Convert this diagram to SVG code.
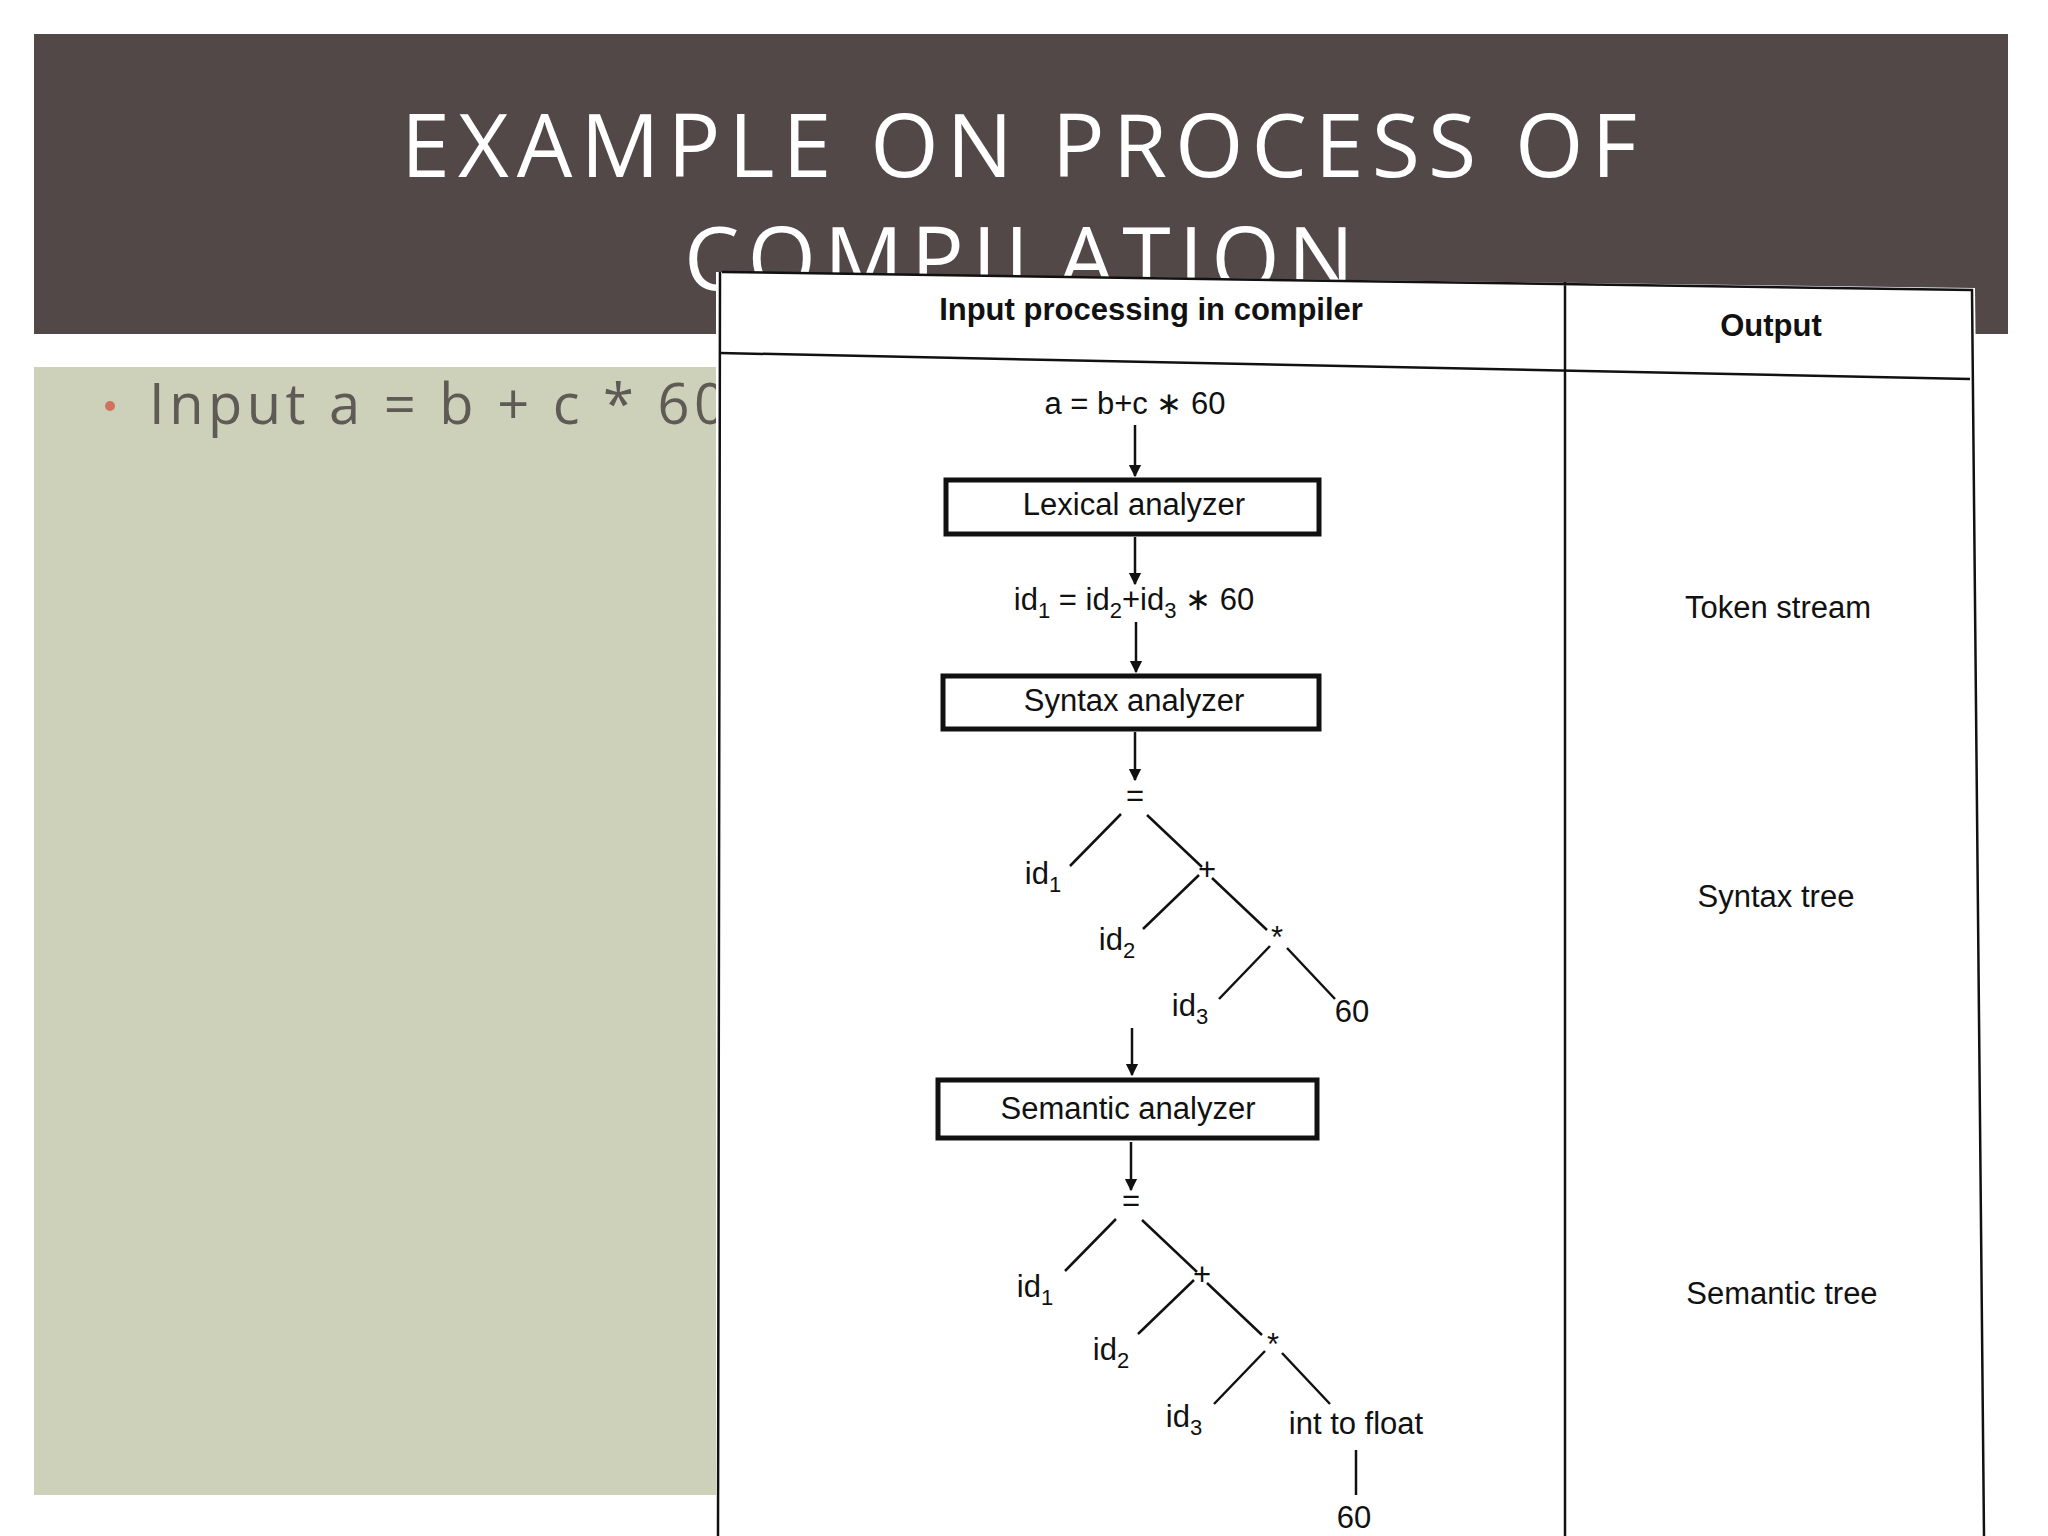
<svg xmlns="http://www.w3.org/2000/svg" width="2048" height="1536" viewBox="0 0 2048 1536">
<defs>
<marker id="ah" viewBox="0 0 10 10" refX="9" refY="5" markerWidth="5" markerHeight="6" orient="auto"><path d="M0,0 L10,5 L0,10 z" fill="#111"/></marker>
</defs>
<style>
.t{font-family:"Liberation Sans",Arial,sans-serif;font-size:31px;fill:#111;text-anchor:middle}
.b{font-weight:bold}
.ln{stroke:#111;stroke-width:2.5;fill:none}
.box{fill:#fff;stroke:#111;stroke-width:5}
.s{font-size:22px}
</style>
<rect width="2048" height="1536" fill="#fff"/>
<g id="header">
<rect x="34" y="34" width="1974" height="300" fill="#524848"/>
<text x="1023" y="177" font-family="Open Sans,sans-serif" font-size="88" fill="#fff" text-anchor="middle" letter-spacing="8">EXAMPLE ON PROCESS OF</text>
<text x="1023" y="290" font-family="Open Sans,sans-serif" font-size="88" fill="#fff" text-anchor="middle" letter-spacing="8">COMPILATION</text>
</g>
<g id="panel">
<rect x="34" y="367" width="682" height="1128" fill="#cdd1b9"/>
<circle cx="110" cy="406" r="5" fill="#d0735d"/>
<text x="149" y="424" font-family="Open Sans,sans-serif" font-size="56" fill="#5f5a55" letter-spacing="4.5">Input a = b + c * 60</text>
</g>
<g id="figure">
<polygon points="716,272 1975,288 1990,1536 716,1536" fill="#fff"/>
<path class="ln" d="M722,272 L1972,290 L1984,1536 M720,272 L718,1536 M1565,282 L1565,1536" stroke-width="3"/>
<path class="ln" d="M720,353 L1970,379" stroke-width="3.5"/>
<text class="t b" x="1151" y="320" font-size="31">Input processing in compiler</text>
<text class="t b" x="1771" y="336">Output</text>
</g>
<g id="connectors">
<line class="ln" x1="1135" y1="425" x2="1135" y2="476" marker-end="url(#ah)"/>
<line class="ln" x1="1135" y1="537" x2="1135" y2="584" marker-end="url(#ah)"/>
<line class="ln" x1="1136" y1="622" x2="1136" y2="672" marker-end="url(#ah)"/>
<line class="ln" x1="1135" y1="732" x2="1135" y2="780" marker-end="url(#ah)"/>
<line class="ln" x1="1132" y1="1028" x2="1132" y2="1075" marker-end="url(#ah)"/>
<line class="ln" x1="1131" y1="1142" x2="1131" y2="1190" marker-end="url(#ah)"/>
<path class="ln" d="M1121,814 L1070,866 M1147,815 L1202,867 M1199,875 L1143,929 M1212,878 L1267,930 M1270,946 L1219,999 M1287,948 L1335,999"/>
<path class="ln" d="M1116,1219 L1065,1271 M1142,1220 L1197,1272 M1194,1280 L1138,1334 M1207,1283 L1262,1335 M1265,1351 L1214,1404 M1282,1353 L1330,1404 M1356,1450 L1356,1495"/>
</g>
<g id="input"><text class="t" x="1135" y="414">a = b+c ∗ 60</text></g>
<g id="lexical"><rect class="box" x="946" y="480" width="373" height="54"/><text class="t" x="1134" y="515" font-size="33">Lexical analyzer</text></g>
<g id="tokens"><text class="t" x="1134" y="610">id<tspan class="s" dy="8">1</tspan><tspan dy="-8"> = id</tspan><tspan class="s" dy="8">2</tspan><tspan dy="-8">+id</tspan><tspan class="s" dy="8">3</tspan><tspan dy="-8"> ∗ 60</tspan></text></g>
<g id="syntax"><rect class="box" x="943" y="676" width="376" height="53"/><text class="t" x="1134" y="711" font-size="33">Syntax analyzer</text></g>
<g id="tree1">
<text class="t" x="1135" y="806">=</text>
<text class="t" x="1043" y="884">id<tspan class="s" dy="8">1</tspan></text>
<text class="t" x="1207" y="880" font-size="24">+</text>
<text class="t" x="1117" y="950">id<tspan class="s" dy="8">2</tspan></text>
<text class="t" x="1277" y="948" font-size="24">*</text>
<text class="t" x="1190" y="1016">id<tspan class="s" dy="8">3</tspan></text>
<text class="t" x="1352" y="1022">60</text>
</g>
<g id="semantic"><rect class="box" x="938" y="1080" width="379" height="58"/><text class="t" x="1128" y="1119" font-size="33">Semantic analyzer</text></g>
<g id="tree2">
<text class="t" x="1131" y="1211">=</text>
<text class="t" x="1035" y="1297">id<tspan class="s" dy="8">1</tspan></text>
<text class="t" x="1202" y="1285" font-size="24">+</text>
<text class="t" x="1111" y="1360">id<tspan class="s" dy="8">2</tspan></text>
<text class="t" x="1273" y="1355" font-size="24">*</text>
<text class="t" x="1184" y="1427">id<tspan class="s" dy="8">3</tspan></text>
<text class="t" x="1356" y="1434">int to float</text>
<text class="t" x="1354" y="1528">60</text>
</g>
<g id="outputs">
<text class="t" x="1778" y="618">Token stream</text>
<text class="t" x="1776" y="907">Syntax tree</text>
<text class="t" x="1782" y="1304">Semantic tree</text>
</g>
</svg>
